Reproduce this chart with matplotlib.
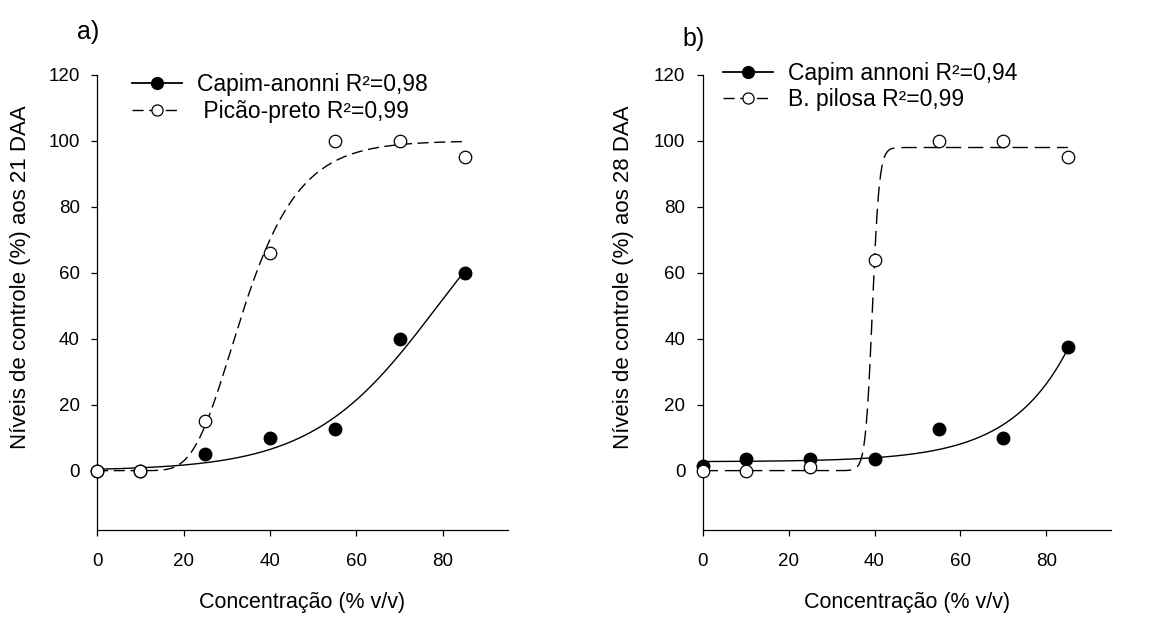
import numpy as np
import matplotlib.pyplot as plt
from matplotlib.lines import Line2D

plt.rcParams['font.family'] = ['Liberation Sans', 'DejaVu Sans']

# --- data ---
conc = [0, 10, 25, 40, 55, 70, 85]

# a) 21 DAA
capim_21 = [0, 0, 5, 10, 12.5, 40, 60]
picao_21 = [0, 0, 15, 66, 100, 100, 95]
# b) 28 DAA
capim_28 = [1.5, 3.5, 3.5, 3.5, 12.5, 10, 37.5]
picao_28 = [0, 0, 1.2, 64, 100, 100, 95]

labels_a = ["Capim-anonni R²=0,98", " Picão-preto R²=0,99"]
labels_b = ["Capim annoni R²=0,94", "B. pilosa R²=0,99"]
ylabels = ["Níveis de controle (%) aos 21 DAA", "Níveis de controle (%) aos 28 DAA"]
xlabel = "Concentração (% v/v)"

# fitted model parameters (estimated from the drawn curves)
fit_capim_21 = (100, 78.8, 14.5)     # logistic: a, x0, b
fit_picao_21 = (100, 31, 8.7)        # gompertz: a, x0, b
fit_capim_28 = (2.7, 0.0636, 0.074)  # exponential: y0, a, b
fit_picao_28 = (98, 39.5, 0.8)       # logistic: a, x0, b


def logistic(x, p):
    a, x0, b = p
    return a / (1 + np.exp(-(x - x0) / b))


def gompertz(x, p):
    a, x0, b = p
    return a * np.exp(-np.exp(-(x - x0) / b))


def expo(x, p):
    y0, a, b = p
    return y0 + a * np.exp(b * x)


xx = np.linspace(0, 85, 600)

fig = plt.figure(figsize=(11.62, 6.17), dpi=100)
ax_a = fig.add_axes([0.0835, 0.141, 0.3535, 0.7375])
ax_b = fig.add_axes([0.6047, 0.141, 0.3513, 0.7375])


def style_axes(ax, ylab, ylab_x):
    ax.set_xlim(0, 95)
    ax.set_ylim(-18, 120)
    ax.set_xticks([0, 20, 40, 60, 80])
    ax.set_yticks([0, 20, 40, 60, 80, 100, 120])
    ax.spines['top'].set_visible(False)
    ax.spines['right'].set_visible(False)
    for s in ['left', 'bottom']:
        ax.spines[s].set_linewidth(0.9)
    ax.tick_params(direction='out', length=4, width=0.9, labelsize=13.5)
    ax.tick_params(axis='x', pad=12.5)
    ax.tick_params(axis='y', pad=8.5)
    ax.set_xlabel(xlabel, fontsize=15.5, va='center')
    ax.xaxis.set_label_coords(0.5, -0.16)
    ax.set_ylabel(ylab, fontsize=16, va='center')
    ax.yaxis.set_label_coords(ylab_x, 0.556)


mk = dict(marker='o', linestyle='none', clip_on=False, zorder=4, markersize=9)

# panel a
ax_a.plot(xx, logistic(xx, fit_capim_21), color='black', lw=1.0)
ax_a.plot(xx, gompertz(xx, fit_picao_21), color='black', lw=1.0, dashes=(8, 4))
ax_a.plot(conc, capim_21, color='black', mfc='black', mec='black', **mk)
ax_a.plot(conc, picao_21, color='black', mfc='white', mec='black', mew=0.9, **mk)
style_axes(ax_a, ylabels[0], -0.187)

# panel b
ax_b.plot(xx, expo(xx, fit_capim_28), color='black', lw=1.0)
ax_b.plot(xx, logistic(xx, fit_picao_28), color='black', lw=1.0, dashes=(11, 5))
ax_b.plot(conc, capim_28, color='black', mfc='black', mec='black', **mk)
ax_b.plot(conc, picao_28, color='black', mfc='white', mec='black', mew=0.9, **mk)
style_axes(ax_b, ylabels[1], -0.193)


def legend(ax, labels, anchor):
    h = [Line2D([], [], color='black', lw=1.3, marker='o', markersize=8.5,
                mfc='black', mec='black'),
         Line2D([], [], color='black', lw=1.0, dashes=(8, 4), marker='o',
                markersize=8, mfc='white', mec='black', mew=0.9)]
    ax.legend(h, labels, loc='upper left', bbox_to_anchor=anchor, frameon=False,
              fontsize=16.5, handlelength=2.2, handletextpad=0.65,
              labelspacing=0.15, borderpad=0, borderaxespad=0)


legend(ax_a, labels_a, (0.085, 1.004))
legend(ax_b, labels_b, (0.05, 1.029))

fig.text(0.066, 0.937, "a)", fontsize=18)
fig.text(0.587, 0.925, "b)", fontsize=18)

fig.savefig("out.png", dpi=100)
